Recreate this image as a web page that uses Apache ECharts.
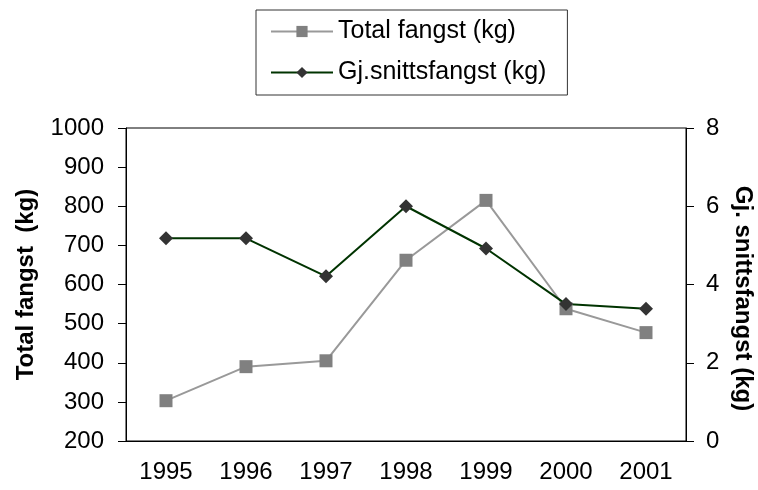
<!DOCTYPE html>
<html>
<head>
<meta charset="utf-8">
<script src="https://cdn.jsdelivr.net/npm/echarts@6/dist/echarts.min.js"></script>
<style>
html, body { margin: 0; padding: 0; background: #fff; }
#chart { width: 758px; height: 490px; }
</style>
</head>
<body>
<div id="chart"></div>
<script>
"use strict";

var YEARS = ['1995', '1996', '1997', '1998', '1999', '2000', '2001'];
var TOTAL_FANGST = [303, 390, 405, 662, 815, 538, 477];
var SNITT_FANGST = [5.18, 5.18, 4.21, 6.0, 4.92, 3.5, 3.38];

var FONT = '"Liberation Sans", Arial, sans-serif';

var chart = echarts.init(document.getElementById('chart'), null, { renderer: 'canvas' });

chart.setOption({
	animation: false,
	backgroundColor: '#fff',
	textStyle: { fontFamily: FONT },
	grid: {
		left: 126,
		right: 72,
		top: 128,
		bottom: 49,
		containLabel: false,
		outerBoundsMode: 'none',
		show: true,
		borderColor: '#000',
		borderWidth: 1
	},
	legend: {
		orient: 'vertical',
		left: 256,
		top: 10,
		padding: [9, 21, 10, 14],
		itemGap: 16,
		itemWidth: 62,
		itemHeight: 14,
		borderColor: '#333',
		borderWidth: 1,
		textStyle: { fontFamily: FONT, fontSize: 25, color: '#000' },
		data: ['Total fangst (kg)', 'Gj.snittsfangst (kg)']
	},
	xAxis: [{
		type: 'category',
		data: YEARS,
		boundaryGap: true,
		axisLine: { lineStyle: { color: '#000', width: 1 } },
		axisTick: { alignWithLabel: false, length: 8, lineStyle: { color: '#000' } },
		axisLabel: { color: '#000', fontSize: 24, fontFamily: FONT, margin: 19 }
	}],
	yAxis: [{
		type: 'value',
		position: 'left',
		min: 200,
		max: 1000,
		interval: 100,
		name: 'Total fangst  (kg)',
		nameLocation: 'middle',
		nameGap: 88,
		nameTextStyle: { fontFamily: FONT, fontSize: 24, fontWeight: 'bold', color: '#000' },
		axisLine: { show: true, lineStyle: { color: '#000', width: 1 } },
		axisTick: { show: true, length: 8, lineStyle: { color: '#000' } },
		axisLabel: {
			color: '#000', fontSize: 24, fontFamily: FONT, margin: 22,
			formatter: function(v) { return String(v); }
		},
		splitLine: { show: false }
	}, {
		type: 'value',
		position: 'right',
		min: 0,
		max: 8,
		interval: 2,
		name: 'Gj. snittsfangst (kg)',
		nameLocation: 'middle',
		nameRotate: -90,
		nameGap: 42,
		nameTextStyle: {
			fontFamily: FONT, fontSize: 24, fontWeight: 'bold', color: '#000',
			padding: [0, 0, 0, 28]
		},
		axisLine: { show: true, lineStyle: { color: '#000', width: 1 } },
		axisTick: { show: true, length: 8, lineStyle: { color: '#000' } },
		axisLabel: { color: '#000', fontSize: 24, fontFamily: FONT, margin: 20 },
		splitLine: { show: false }
	}],
	series: [{
		name: 'Total fangst (kg)',
		type: 'line',
		yAxisIndex: 0,
		data: TOTAL_FANGST,
		symbol: 'rect',
		symbolSize: 13,
		itemStyle: { color: '#808080' },
		lineStyle: { color: '#999999', width: 2 }
	}, {
		name: 'Gj.snittsfangst (kg)',
		type: 'line',
		yAxisIndex: 1,
		data: SNITT_FANGST,
		symbol: 'diamond',
		symbolSize: 14,
		itemStyle: { color: '#333333' },
		lineStyle: { color: '#003300', width: 2 }
	}]
});
</script>
</body>
</html>
